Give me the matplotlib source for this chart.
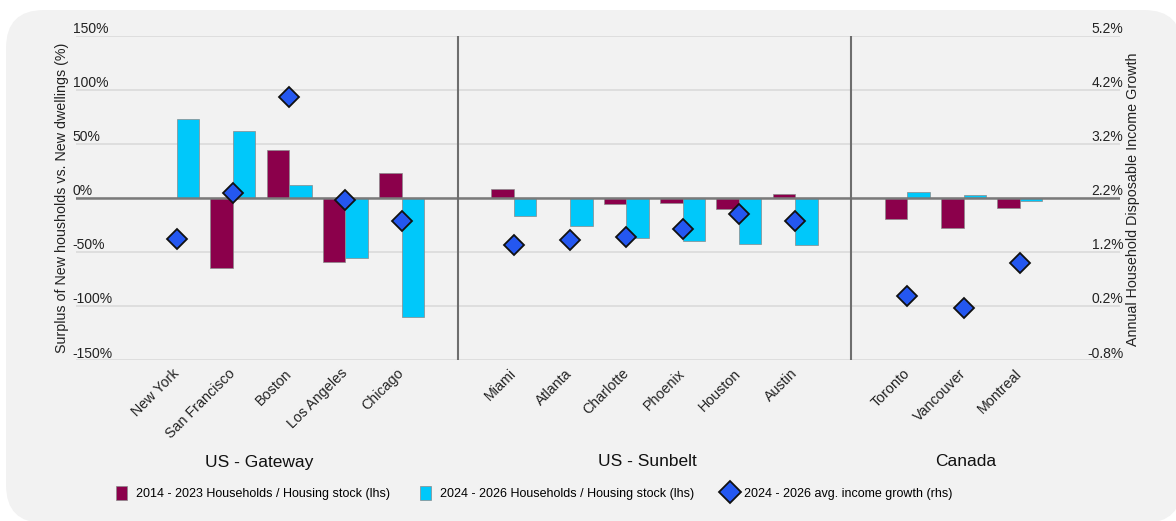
import matplotlib
matplotlib.use("Agg")
import matplotlib.pyplot as plt
import matplotlib.transforms as mtransforms
from matplotlib.patches import FancyBboxPatch, Patch
from matplotlib.lines import Line2D
import numpy as np

# ---------------- data ----------------
group_names = ["US - Gateway", "US - Sunbelt", "Canada"]
cities_gateway = ["New York", "San Francisco", "Boston", "Los Angeles", "Chicago"]
cities_sunbelt = ["Miami", "Atlanta", "Charlotte", "Phoenix", "Houston", "Austin"]
cities_canada = ["Toronto", "Vancouver", "Montreal"]

# Surplus of new households vs new dwellings (%), lhs
hh_2014_2023 = [0, -65, 44, -59, 23, 8, 0, -6, -5, -10, 4, -20, -28, -9]
hh_2024_2026 = [73, 62, 12, -56, -110, -17, -26, -37, -40, -43, -44, 5, 3, -3]
# 2024-2026 avg. income growth (%), rhs
income_growth = [1.43, 2.29, 4.06, 2.16, 1.77, 1.32, 1.42, 1.47, 1.63, 1.90, 1.77, 0.38, 0.16, 0.99]

lhs_ticks = [-150, -100, -50, 0, 50, 100, 150]
rhs_ticks = [-0.8, 0.2, 1.2, 2.2, 3.2, 4.2, 5.2]
group_label_x = [1.46, 8.37, 14.04]

legend_labels = ["2014 - 2023 Households / Housing stock (lhs)",
                 "2024 - 2026 Households / Housing stock (lhs)",
                 "2024 - 2026 avg. income growth (rhs)"]

# ---------------- styles ----------------
MAROON = "#8b004b"
CYAN = "#00c8fa"
BLUE = "#2457f0"
FONT = ["Liberation Sans", "DejaVu Sans"]
plt.rcParams["font.family"] = FONT

# ---------------- positions (one empty slot between groups) ----------------
city_groups = [cities_gateway, cities_sunbelt, cities_canada]
labels, xpos, seps = [], [], []
pos = 0
for gi, g in enumerate(city_groups):
    for c in g:
        labels.append(c)
        xpos.append(pos)
        pos += 1
    if gi < len(city_groups) - 1:
        seps.append(pos)
        pos += 1
xpos = np.array(xpos, dtype=float)

W, H = 1176, 521
fig = plt.figure(figsize=(W / 100, H / 100), dpi=100)
fig.patch.set_facecolor("white")

panel = FancyBboxPatch((0.06, -0.02), 11.76, 5.13,
                       boxstyle="round,pad=0,rounding_size=0.38",
                       transform=fig.dpi_scale_trans, facecolor="#f2f2f2",
                       edgecolor="none", zorder=0)
fig.add_artist(panel)

ax = fig.add_axes([76 / W, (H - 360) / H, 1044 / W, (360 - 35.7) / H])
ax.set_facecolor("none")
for s in ax.spines.values():
    s.set_visible(False)
ax.set_xlim(-1.79, 16.78)
ax.set_ylim(-150, 150)
ax.set_yticks(lhs_ticks)
ax.grid(axis="y", color="#dcdcdc", lw=1.3, zorder=0)
ax.set_axisbelow(True)

bw = 0.4
ax.bar(xpos - bw / 2, hh_2014_2023, width=bw, color=MAROON, edgecolor="#8a8a8a",
       linewidth=0.5, zorder=2)
ax.bar(xpos + bw / 2, hh_2024_2026, width=bw, color=CYAN, edgecolor="#8a8a8a",
       linewidth=0.5, zorder=2)
ax.axhline(0, color="#7a7a7a", lw=1.8, zorder=3)
for s in seps:
    ax.axvline(s, color="#6e6e6e", lw=1.5, zorder=3)

ax.set_xticks(xpos)
ax.set_xticklabels(labels, rotation=45, ha="right", fontsize=10.3, color="#222222")
ax.tick_params(axis="x", length=0, pad=4.5)
offset = mtransforms.ScaledTranslation(5 / 100, 0, fig.dpi_scale_trans)
for lab in ax.get_xticklabels():
    lab.set_transform(lab.get_transform() + offset)

ax2 = ax.twinx()
ax2.set_ylim(-0.8, 5.2)
for s in ax2.spines.values():
    s.set_visible(False)
ax.tick_params(axis="y", left=False, right=False, labelleft=False, labelright=False)
ax2.tick_params(axis="y", left=False, right=False, labelleft=False, labelright=False)
ax2.plot(xpos, income_growth, linestyle="none", marker="D", ms=10,
         mfc=BLUE, mec="#111111", mew=1.3, zorder=5)

# tick labels sitting just above their gridlines
up = mtransforms.ScaledTranslation(0, 2.5 / 100, fig.dpi_scale_trans)
tl = mtransforms.blended_transform_factory(ax.transAxes, ax.transData) + up
for t in lhs_ticks:
    ax.text(-0.003, t, f"{t}%", transform=tl, ha="left", va="baseline",
            fontsize=10, color="#222222")
tr = mtransforms.blended_transform_factory(ax2.transAxes, ax2.transData) + up
for t in rhs_ticks:
    ax2.text(1.003, t, f"{t:.1f}%", transform=tr, ha="right", va="baseline",
             fontsize=10, color="#222222")

fig.text(62 / W, 1 - 197.5 / H, "Surplus of New housholds vs. New dwellings (%)",
         rotation=90, ha="center", va="center", fontsize=10.3, color="#222222")
fig.text(1133 / W, 1 - 199 / H, "Annual Household Disposable Income Growth",
         rotation=90, ha="center", va="center", fontsize=10.3, color="#222222")

tg = mtransforms.blended_transform_factory(ax.transData, fig.transFigure)
for gx, gname in zip(group_label_x, group_names):
    ax.text(gx, 1 - 462 / H, gname, transform=tg, ha="center", va="center",
            fontsize=12.5, color="#111111")

handles = [Patch(facecolor=MAROON, edgecolor="#8a8a8a", linewidth=0.5),
           Patch(facecolor=CYAN, edgecolor="#8a8a8a", linewidth=0.5),
           Line2D([], [], linestyle="none", marker="D", ms=11, mfc=BLUE,
                  mec="#111111", mew=1.3)]
fig.legend(handles, legend_labels, loc="center",
           bbox_to_anchor=(534 / W, 1 - 493 / H), ncol=3, frameon=False,
           prop={"family": "Liberation Sans", "size": 9},
           handlelength=0.9, handleheight=1.3, handletextpad=0.7, columnspacing=2.4)

fig.savefig("out.png", dpi=100, facecolor="white")
